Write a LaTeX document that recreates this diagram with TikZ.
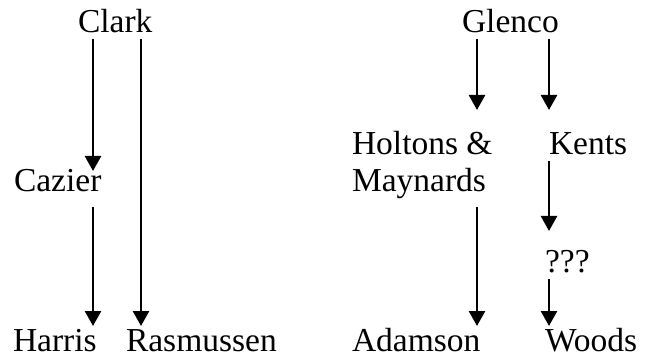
\documentclass[tikz,border=0pt]{standalone}
\usepackage{fontspec}
\setmainfont{Liberation Serif}
\usetikzlibrary{arrows.meta}
\begin{document}
\begin{tikzpicture}[x=1pt,y=-1pt,
  lbl/.style={anchor=base west,inner sep=0pt,outer sep=0pt,font=\fontsize{33.5}{37}\selectfont,text height=27pt,text depth=6pt},
  bottom/.style={text depth=0pt},
  arr/.style={line width=2.6pt,-{Triangle[length=15pt,width=16pt]}}]
\useasboundingbox (0,0) rectangle (645,358);
% x positions of connectors
\coordinate (xa) at (93,0);
\coordinate (xb) at (141,0);
\coordinate (xc) at (477,0);
\coordinate (xd) at (549,0);
% left tree
\node[lbl] (clark) at (78,33) {Clark};
\node[lbl] (cazier) at (14,192) {Cazier};
\node[lbl,bottom] (harris) at (13,351) {Harris};
\node[lbl,bottom] (rasmussen) at (126,351) {Rasmussen};
% right tree
\node[lbl] (glenco) at (462,33) {Glenco};
\node[lbl] (holtons) at (352,155) {Holtons \&};
\node[lbl] (maynards) at (352,192) {Maynards};
\node[lbl] (kents) at (549,155) {Kents};
\node[lbl] (unknown) at (545,272) {???};
\node[lbl,bottom] (adamson) at (352,351) {Adamson};
\node[lbl,bottom] (woods) at (545,351) {Woods};
% connectors
\draw[arr,shorten >=-6pt] (clark.south -| xa) -- (cazier.north -| xa);
\draw[arr,shorten <=9pt,shorten >=-2pt] (cazier.south -| xa) -- (harris.north -| xa);
\draw[arr,shorten >=-2pt] (clark.south -| xb) -- (rasmussen.north -| xb);
\draw[arr,shorten >=18pt] (glenco.south -| xc) -- (holtons.north -| xc);
\draw[arr,shorten >=18pt] (glenco.south -| xd) -- (kents.north -| xd);
\draw[arr,shorten <=9pt,shorten >=-2pt] (maynards.south -| xc) -- (adamson.north -| xc);
\draw[arr,shorten >=14pt] (kents.south -| xd) -- (unknown.north -| xd);
\draw[arr,shorten <=1pt,shorten >=-2pt] (unknown.south -| xd) -- (woods.north -| xd);
\end{tikzpicture}
\end{document}
